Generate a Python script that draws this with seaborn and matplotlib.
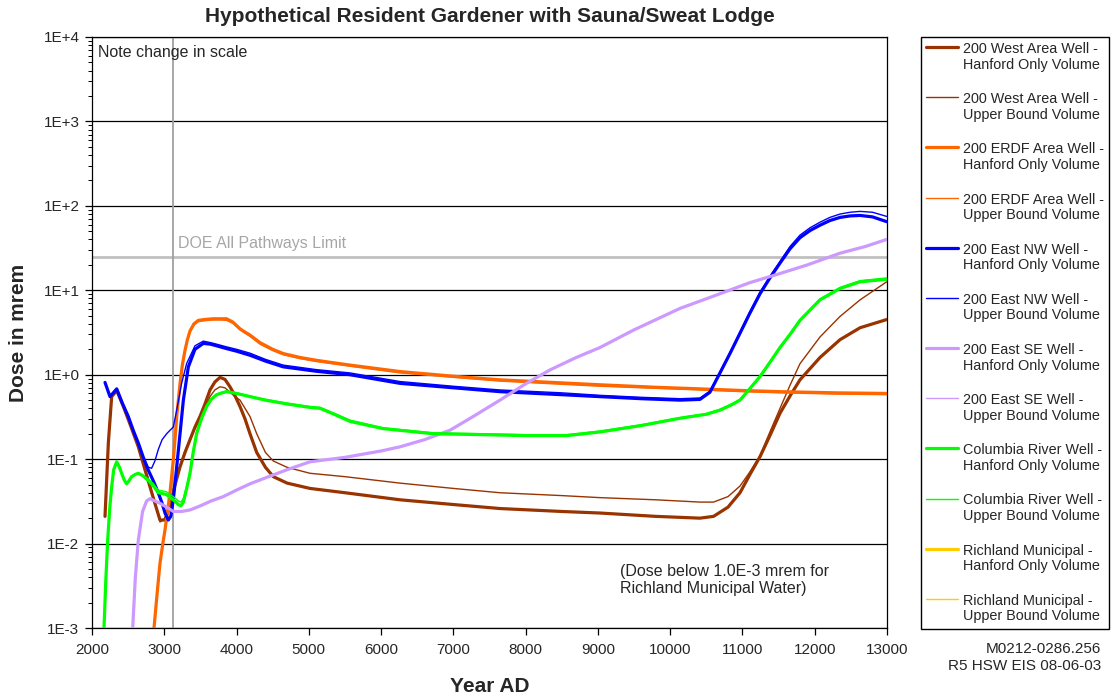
import numpy as np
import pandas as pd
import matplotlib
matplotlib.use("Agg")
import matplotlib.pyplot as plt
from matplotlib.ticker import LogLocator, FixedLocator, NullFormatter, NullLocator
from matplotlib.legend_handler import HandlerLine2D
from matplotlib.lines import Line2D
import seaborn as sns

# ---------------- data ----------------
west_ho_year = [2180, 2226, 2272, 2342, 2434, 2526, 2641, 2779, 2870, 2941, 3010, 3079, 3150, 3218, 3287,
                3356, 3425, 3494, 3563, 3633, 3700, 3771, 3840, 3909, 3980, 4048, 4117, 4186, 4279, 4400,
                4509, 4700, 5016, 5500, 6262, 7000, 7645, 8500, 9029, 9800, 10412, 10600, 10800, 10966,
                11100, 11243, 11380, 11520, 11658, 11796, 12073, 12350, 12627, 12995]
west_ho_dose = [0.021, 0.155, 0.55, 0.65, 0.42, 0.26, 0.14, 0.055, 0.03, 0.019, 0.019, 0.028, 0.05, 0.081, 0.12,
                0.17, 0.24, 0.32, 0.45, 0.66, 0.82, 0.93, 0.88, 0.72, 0.56, 0.42, 0.30, 0.20, 0.12, 0.08,
                0.062, 0.052, 0.045, 0.040, 0.033, 0.029, 0.026, 0.024, 0.023, 0.021, 0.020, 0.021, 0.027, 0.040,
                0.065, 0.107, 0.19, 0.35, 0.56, 0.87, 1.6, 2.6, 3.6, 4.5]

west_ub_year = [2180, 2226, 2272, 2342, 2434, 2526, 2641, 2779, 2870, 2941, 3010, 3079, 3150, 3218, 3287,
                3356, 3425, 3494, 3563, 3633, 3700, 3771, 3840, 3909, 3980, 4048, 4117, 4186, 4279, 4400,
                4509, 4700, 5016, 5500, 6262, 7000, 7645, 8500, 9029, 9800, 10412, 10600, 10800, 10966,
                11100, 11243, 11380, 11520, 11658, 11796, 12073, 12350, 12627, 12995]
west_ub_dose = [0.021, 0.155, 0.55, 0.65, 0.42, 0.26, 0.14, 0.058, 0.031, 0.018, 0.02, 0.03, 0.052, 0.085, 0.125,
                0.17, 0.23, 0.30, 0.40, 0.55, 0.66, 0.72, 0.70, 0.62, 0.55, 0.50, 0.40, 0.32, 0.20, 0.12,
                0.095, 0.08, 0.068, 0.062, 0.052, 0.045, 0.040, 0.037, 0.035, 0.033, 0.031, 0.031, 0.036, 0.048,
                0.07, 0.11, 0.21, 0.40, 0.75, 1.35, 2.8, 4.9, 7.7, 12.6]

erdf_ho_year = [2858, 2900, 2941, 2980, 3010, 3045, 3079, 3100, 3125, 3150, 3172, 3195, 3218, 3250, 3287,
                3320, 3356, 3410, 3471, 3550, 3678, 3780, 3862, 3950, 4048, 4117, 4186, 4324, 4500, 4647,
                4878, 5108, 5570, 6262, 7000, 7645, 8500, 9029, 9800, 10412, 11000, 11520, 12300, 12995]
erdf_ho_dose = [0.001, 0.0025, 0.0059, 0.01, 0.0145, 0.024, 0.040, 0.06, 0.098, 0.18, 0.32, 0.5, 0.79, 1.3, 1.95,
                2.6, 3.3, 4.0, 4.4, 4.5, 4.6, 4.6, 4.6, 4.2, 3.5, 3.2, 2.95, 2.4, 2.0, 1.78,
                1.6, 1.48, 1.3, 1.09, 0.96, 0.87, 0.80, 0.76, 0.71, 0.68, 0.65, 0.63, 0.61, 0.60]

erdf_ub_year = [2858, 2900, 2941, 2980, 3010, 3045, 3079, 3100, 3125, 3150, 3172, 3195, 3218, 3250, 3287,
                3320, 3356, 3410, 3471, 3550, 3678, 3780, 3862, 3950, 4048, 4117, 4186, 4324, 4500, 4647,
                4878, 5108, 5570, 6262, 7000, 7645, 8500, 9029, 9800, 10412, 11000, 11520, 12300, 12995]
erdf_ub_dose = [0.001, 0.0025, 0.0058, 0.0098, 0.014, 0.023, 0.039, 0.058, 0.095, 0.17, 0.31, 0.48, 0.76, 1.25, 1.9,
                2.5, 3.2, 3.85, 4.25, 4.35, 4.45, 4.45, 4.4, 4.05, 3.4, 3.1, 2.85, 2.3, 1.93, 1.72,
                1.55, 1.43, 1.26, 1.05, 0.93, 0.84, 0.77, 0.73, 0.69, 0.66, 0.63, 0.61, 0.59, 0.58]

nw_ho_year = [2180, 2249, 2342, 2420, 2502, 2570, 2641, 2710, 2779, 2850, 2917, 2970, 3010, 3056, 3090,
              3125, 3172, 3218, 3264, 3333, 3425, 3540, 3640, 3724, 3850, 4000, 4186, 4400, 4645, 5100,
              5570, 6262, 7000, 7645, 8500, 9029, 9600, 10136, 10412, 10550, 10689, 10830, 10966, 11100,
              11243, 11380, 11520, 11658, 11796, 11935, 12073, 12210, 12350, 12490, 12627, 12800, 12995]
nw_ho_dose = [0.81, 0.55, 0.68, 0.46, 0.32, 0.22, 0.155, 0.105, 0.074, 0.055, 0.040, 0.030, 0.023, 0.019, 0.021,
              0.033, 0.081, 0.20, 0.50, 1.24, 2.0, 2.35, 2.3, 2.2, 2.05, 1.9, 1.7, 1.45, 1.24, 1.1,
              1.0, 0.79, 0.70, 0.63, 0.58, 0.55, 0.52, 0.50, 0.51, 0.62, 1.05, 1.8, 3.1, 5.3,
              9.1, 14, 21, 31, 42, 51, 59, 67, 73, 76, 77, 74, 65]

nw_ub_year = [2180, 2249, 2342, 2420, 2502, 2570, 2641, 2710, 2779, 2825, 2870, 2917, 2970, 3033, 3080,
              3125, 3172, 3240, 3310, 3425, 3540, 3640, 3724, 3850, 4000, 4186, 4400, 4645, 5100,
              5570, 6262, 7000, 7645, 8500, 9029, 9600, 10136, 10412, 10550, 10689, 10830, 10966, 11100,
              11243, 11380, 11520, 11658, 11796, 11935, 12073, 12210, 12350, 12490, 12627, 12800, 12995]
nw_ub_dose = [0.81, 0.55, 0.68, 0.46, 0.32, 0.22, 0.155, 0.105, 0.08, 0.078, 0.095, 0.13, 0.17, 0.20, 0.22,
              0.24, 0.38, 0.79, 1.36, 2.2, 2.5, 2.4, 2.3, 2.15, 2.0, 1.8, 1.52, 1.3, 1.15,
              1.05, 0.83, 0.73, 0.66, 0.61, 0.57, 0.54, 0.52, 0.53, 0.64, 1.08, 1.85, 3.2, 5.5,
              9.5, 14.6, 22, 33, 45, 55, 64, 73, 80, 84, 86, 84, 75]

se_ho_year = [2563, 2600, 2641, 2700, 2756, 2802, 2870, 2941, 3033, 3125, 3240, 3356, 3500, 3650, 3817,
              4000, 4186, 4400, 4700, 5016, 5500, 6000, 6262, 6600, 6954, 7300, 7645, 8000, 8337, 8700,
              9029, 9500, 10136, 10689, 11100, 11520, 11900, 12350, 12700, 12995]
se_ho_dose = [0.001, 0.004, 0.011, 0.024, 0.032, 0.034, 0.032, 0.030, 0.027, 0.024, 0.024, 0.025, 0.028, 0.032, 0.036,
              0.043, 0.051, 0.06, 0.075, 0.093, 0.105, 0.125, 0.14, 0.17, 0.22, 0.33, 0.50, 0.78, 1.14, 1.6,
              2.1, 3.4, 6.1, 9.1, 12.3, 15.8, 20, 27.5, 33, 40]

se_ub_year = [2563, 2600, 2641, 2700, 2756, 2802, 2870, 2941, 3033, 3125, 3240, 3356, 3500, 3650, 3817,
              4000, 4186, 4400, 4700, 5016, 5500, 6000, 6262, 6600, 6954, 7300, 7645, 8000, 8337, 8700,
              9029, 9500, 10136, 10689, 11100, 11520, 11900, 12350, 12700, 12995]
se_ub_dose = [0.001, 0.004, 0.011, 0.024, 0.032, 0.034, 0.032, 0.030, 0.027, 0.024, 0.024, 0.025, 0.028, 0.032, 0.036,
              0.043, 0.051, 0.06, 0.075, 0.093, 0.105, 0.125, 0.14, 0.17, 0.22, 0.33, 0.50, 0.78, 1.14, 1.6,
              2.1, 3.4, 6.1, 9.1, 12.3, 15.8, 20, 27.5, 33, 40]

col_ho_year = [2166, 2190, 2217, 2245, 2272, 2300, 2342, 2380, 2410, 2445, 2479, 2510, 2548, 2600, 2641,
               2700, 2779, 2850, 2917, 2980, 3033, 3080, 3125, 3160, 3194, 3230, 3264, 3310, 3356, 3400,
               3447, 3520, 3586, 3650, 3724, 3800, 3862, 4000, 4186, 4400, 4700, 5016, 5155, 5350, 5570,
               6027, 6719, 7410, 8000, 8570, 9029, 9600, 10136, 10500, 10689, 10850, 10966, 11100, 11243,
               11380, 11520, 11658, 11796, 12073, 12350, 12627, 12995]
col_ho_dose = [0.001, 0.0035, 0.011, 0.026, 0.047, 0.075, 0.093, 0.08, 0.068, 0.057, 0.051, 0.055, 0.062, 0.066, 0.068,
               0.064, 0.056, 0.048, 0.040, 0.039, 0.038, 0.035, 0.033, 0.031, 0.029, 0.028, 0.031, 0.045, 0.068, 0.12,
               0.20, 0.31, 0.42, 0.51, 0.58, 0.61, 0.63, 0.60, 0.55, 0.50, 0.45, 0.41, 0.40, 0.34, 0.28,
               0.23, 0.20, 0.195, 0.19, 0.19, 0.21, 0.25, 0.305, 0.34, 0.38, 0.44, 0.50, 0.68, 0.95,
               1.4, 2.1, 3.0, 4.4, 7.7, 10.5, 12.6, 13.5]

col_ub_year = [2166, 2190, 2217, 2245, 2272, 2300, 2342, 2380, 2410, 2445, 2479, 2510, 2548, 2600, 2641,
               2700, 2779, 2850, 2917, 2980, 3033, 3080, 3125, 3160, 3194, 3230, 3264, 3310, 3356, 3400,
               3447, 3520, 3586, 3650, 3724, 3800, 3862, 4000, 4186, 4400, 4700, 5016, 5155, 5350, 5570,
               6027, 6719, 7410, 8000, 8570, 9029, 9600, 10136, 10500, 10689, 10850, 10966, 11100, 11243,
               11380, 11520, 11658, 11796, 12073, 12350, 12627, 12995]
col_ub_dose = [0.001, 0.0035, 0.011, 0.026, 0.047, 0.075, 0.093, 0.08, 0.068, 0.057, 0.051, 0.055, 0.062, 0.066, 0.068,
               0.065, 0.058, 0.051, 0.043, 0.042, 0.041, 0.038, 0.036, 0.034, 0.032, 0.031, 0.034, 0.048, 0.072, 0.125,
               0.21, 0.32, 0.43, 0.52, 0.59, 0.62, 0.64, 0.61, 0.56, 0.51, 0.46, 0.42, 0.41, 0.35, 0.29,
               0.235, 0.205, 0.2, 0.195, 0.195, 0.215, 0.255, 0.31, 0.345, 0.39, 0.45, 0.51, 0.69, 0.97,
               1.43, 2.15, 3.05, 4.5, 7.9, 10.8, 13.0, 14.0]

# Richland Municipal doses are below 1.0E-3 mrem (off the plotted scale)
rich_ho_year, rich_ho_dose = [], []
rich_ub_year, rich_ub_dose = [], []

labels = ["200 West Area Well -\nHanford Only Volume", "200 West Area Well -\nUpper Bound Volume",
          "200 ERDF Area Well -\nHanford Only Volume", "200 ERDF Area Well -\nUpper Bound Volume",
          "200 East NW Well -\nHanford Only Volume", "200 East NW Well -\nUpper Bound Volume",
          "200 East SE Well -\nHanford Only Volume", "200 East SE Well -\nUpper Bound Volume",
          "Columbia River Well -\nHanford Only Volume", "Columbia River Well -\nUpper Bound Volume",
          "Richland Municipal -\nHanford Only Volume", "Richland Municipal -\nUpper Bound Volume"]

x_ticks = [2000, 3000, 4000, 5000, 6000, 7000, 8000, 9000, 10000, 11000, 12000, 13000]
y_ticks = [1e-3, 1e-2, 1e-1, 1e0, 1e1, 1e2, 1e3, 1e4]
y_tick_labels = ["1E-3", "1E-2", "1E-1", "1E+0", "1E+1", "1E+2", "1E+3", "1E+4"]
doe_limit = 25
scale_change_year = 3120

# ---------------- styling ----------------
sns.set_style("white")
plt.rcParams["font.family"] = ["Liberation Sans", "DejaVu Sans"]

W, H = 1115, 698
fig = plt.figure(figsize=(W / 100, H / 100), dpi=100)
L, R, T, B = 92, 887, 37, 628
ax = fig.add_axes([L / W, 1 - B / H, (R - L) / W, (B - T) / H])

series = [
    (west_ho_year, west_ho_dose, "#993300", 2.3),
    (west_ub_year, west_ub_dose, "#993300", 1.0),
    (erdf_ho_year, erdf_ho_dose, "#FF6600", 2.3),
    (erdf_ub_year, erdf_ub_dose, "#FF6600", 1.0),
    (nw_ho_year, nw_ho_dose, "#0000FF", 2.3),
    (nw_ub_year, nw_ub_dose, "#0000FF", 1.0),
    (se_ho_year, se_ho_dose, "#CC99FF", 2.3),
    (se_ub_year, se_ub_dose, "#CC99FF", 1.0),
    (col_ho_year, col_ho_dose, "#00FF00", 2.3),
    (col_ub_year, col_ub_dose, "#00FF00", 1.0),
    (rich_ho_year, rich_ho_dose, "#FFCC00", 2.3),
    (rich_ub_year, rich_ub_dose, "#FFCC00", 1.0),
]

ax.set_yscale("log")
ax.set_xlim(2000, 13000)
ax.set_ylim(1e-3, 1e4)

# grid lines & reference lines
for yv in y_ticks:
    ax.axhline(yv, color="#000000", lw=0.9, zorder=1)
ax.axhline(doe_limit, color="#C0C0C0", lw=2.0, zorder=1.5)
ax.axvline(scale_change_year, color="#A0A0A0", lw=1.3, zorder=1.5)

handles = []
for (xs, ys, c, lw), lab in zip(series, labels):
    if len(xs):
        df = pd.DataFrame({"Year": xs, "Dose": ys})
        sns.lineplot(data=df, x="Year", y="Dose", ax=ax, color=c, linewidth=lw,
                     sort=False, estimator=None, legend=False, zorder=3)
    h, = ax.plot([], [], color=c, lw=lw)
    handles.append(h)

ax.set_xticks(x_ticks)
ax.set_xticklabels([str(v) for v in x_ticks], fontsize=11)
ax.yaxis.set_major_locator(FixedLocator(y_ticks))
ax.set_yticklabels(y_tick_labels, fontsize=11)
ax.yaxis.set_minor_locator(LogLocator(base=10, subs=np.arange(2, 10), numticks=20))
ax.yaxis.set_minor_formatter(NullFormatter())
ax.xaxis.set_minor_locator(NullLocator())
ax.tick_params(axis="both", which="major", direction="out", length=5, width=0.9, color="#000000", pad=4)
ax.tick_params(axis="y", which="minor", direction="out", length=3, width=0.7, color="#000000", left=True)
ax.tick_params(axis="x", which="major", bottom=True, pad=6)
ax.tick_params(axis="y", which="major", left=True)
for sp in ax.spines.values():
    sp.set_color("#000000")
    sp.set_linewidth(0.9)
    sp.set_visible(True)

ax.set_xlabel("Year AD", fontsize=15, fontweight="bold")
ax.set_ylabel("Dose in mrem", fontsize=15, fontweight="bold")
ax.xaxis.set_label_coords(0.5, (B - 686) / (B - T))
ax.xaxis.label.set_va("center")
ax.yaxis.set_label_coords((18 - L) / (R - L), 0.5)
ax.yaxis.label.set_va("center")

fig.text((L + R) / 2 / W, 1 - 17 / H, "Hypothetical Resident Gardener with Sauna/Sweat Lodge",
         ha="center", va="center", fontsize=15, fontweight="bold")

ax.text((98 - L) / (R - L), 1 - (52 - T) / (B - T), "Note change in scale", transform=ax.transAxes,
        ha="left", va="center", fontsize=11.5)
ax.text((178 - L) / (R - L), 1 - (243 - T) / (B - T), "DOE All Pathways Limit", transform=ax.transAxes,
        ha="left", va="center", fontsize=11.5, color="#A6A6A6")
ax.text((620 - L) / (R - L), 1 - (580 - T) / (B - T),
        "(Dose below 1.0E-3 mrem for\nRichland Municipal Water)", transform=ax.transAxes,
        ha="left", va="center", fontsize=11.5, linespacing=1.15)
fig.text(1101 / W, 1 - 657.5 / H, "M0212-0286.256\nR5 HSW EIS 08-06-03", ha="right", va="center",
         fontsize=11, linespacing=1.25)


class FirstLineHandler(HandlerLine2D):
    """Legend line aligned with the first line of a two-line label."""
    def create_artists(self, legend, orig_handle, xdescent, ydescent, width, height, fontsize, trans):
        arts = super().create_artists(legend, orig_handle, xdescent, ydescent, width, height, fontsize, trans)
        for a in arts:
            if isinstance(a, Line2D):
                a.set_ydata(np.asarray(a.get_ydata(), dtype=float) + 0.42 * fontsize)
        return arts


leg = fig.legend(handles, labels, loc="upper left", bbox_to_anchor=(921 / W, 1 - 37 / H),
                 bbox_transform=fig.transFigure, borderaxespad=0, fontsize=10.4,
                 frameon=True, fancybox=False, shadow=False, framealpha=1,
                 edgecolor="#000000", handlelength=2.2, handletextpad=0.35,
                 labelspacing=1.40, borderpad=0.35, handleheight=2.6,
                 handler_map={Line2D: FirstLineHandler()})
leg.get_frame().set_linewidth(1.0)
for t in leg.get_texts():
    t.set_linespacing(1.15)

fig.savefig("out.png", dpi=100, facecolor="white")
